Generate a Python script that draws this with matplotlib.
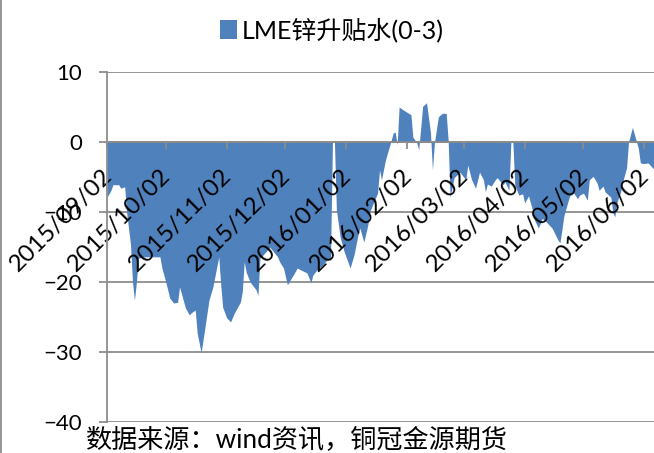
import matplotlib
matplotlib.use("Agg")
import matplotlib.pyplot as plt
import matplotlib.dates as mdates
import matplotlib.transforms as mtransforms
from matplotlib.patches import Patch
from matplotlib.lines import Line2D
import pandas as pd

plt.rcParams['font.family'] = ['Lato', 'Noto Sans CJK SC', 'DejaVu Sans']

# LME zinc 0-3 month spread, daily
dates = [
    "2015-09-02", "2015-09-04", "2015-09-05", "2015-09-08", "2015-09-09", "2015-09-11",
    "2015-09-12", "2015-09-14", "2015-09-15", "2015-09-16", "2015-09-17", "2015-09-18",
    "2015-09-21", "2015-09-25", "2015-09-29", "2015-09-30", "2015-10-02", "2015-10-04",
    "2015-10-06", "2015-10-08", "2015-10-09", "2015-10-12", "2015-10-14", "2015-10-15",
    "2015-10-17", "2015-10-18", "2015-10-20", "2015-10-22", "2015-10-24", "2015-10-26",
    "2015-10-29", "2015-10-30", "2015-10-31", "2015-11-02", "2015-11-04", "2015-11-06",
    "2015-11-09", "2015-11-10", "2015-11-11", "2015-11-12", "2015-11-14", "2015-11-17",
    "2015-11-18", "2015-11-19", "2015-11-22", "2015-11-24", "2015-11-26", "2015-11-28",
    "2015-11-29", "2015-12-01", "2015-12-03", "2015-12-06", "2015-12-08", "2015-12-10",
    "2015-12-13", "2015-12-15", "2015-12-16", "2015-12-18", "2015-12-21", "2015-12-23",
    "2015-12-25", "2015-12-26", "2015-12-27", "2015-12-28", "2015-12-30", "2016-01-01",
    "2016-01-04", "2016-01-06", "2016-01-08", "2016-01-09", "2016-01-11", "2016-01-13",
    "2016-01-14", "2016-01-16", "2016-01-18", "2016-01-19", "2016-01-20", "2016-01-22",
    "2016-01-23", "2016-01-24", "2016-01-26", "2016-01-27", "2016-01-28", "2016-01-29",
    "2016-01-31", "2016-02-04", "2016-02-05", "2016-02-07", "2016-02-08", "2016-02-10",
    "2016-02-12", "2016-02-14", "2016-02-15", "2016-02-16", "2016-02-18", "2016-02-20",
    "2016-02-22", "2016-02-23", "2016-02-24", "2016-02-26", "2016-02-29", "2016-03-03",
    "2016-03-04", "2016-03-06", "2016-03-08", "2016-03-10", "2016-03-12", "2016-03-13",
    "2016-03-14", "2016-03-16", "2016-03-18", "2016-03-19", "2016-03-22", "2016-03-23",
    "2016-03-25", "2016-03-26", "2016-03-27", "2016-03-28", "2016-03-30", "2016-04-01",
    "2016-04-02", "2016-04-04", "2016-04-06", "2016-04-07", "2016-04-09", "2016-04-11",
    "2016-04-13", "2016-04-16", "2016-04-19", "2016-04-20", "2016-04-21", "2016-04-22",
    "2016-04-24", "2016-04-25", "2016-04-27", "2016-04-29", "2016-04-30", "2016-05-02",
    "2016-05-04", "2016-05-05", "2016-05-07", "2016-05-09", "2016-05-10", "2016-05-12",
    "2016-05-13", "2016-05-16", "2016-05-17", "2016-05-18", "2016-05-19", "2016-05-21",
    "2016-05-22", "2016-05-24", "2016-05-25", "2016-05-27", "2016-05-28", "2016-05-30",
    "2016-05-31", "2016-06-01", "2016-06-04", "2016-06-06", "2016-06-07",
]
spread = [
    -7.9, -6.9, -6.1, -6.1, -6.6, -6.4,
    -10.0, -14.7, -20.0, -22.6, -20.0, -16.6,
    -16.4, -16.4, -16.4, -18.0, -20.0, -22.3,
    -23.0, -22.9, -20.7, -23.7, -24.7, -24.4,
    -24.0, -27.3, -30.1, -26.4, -22.6, -20.7,
    -16.4, -20.4, -23.6, -25.1, -25.7, -24.4,
    -22.9, -21.4, -17.1, -18.6, -20.0, -21.1,
    -21.9, -16.6, -15.7, -15.0, -15.7, -16.4,
    -17.1, -18.0, -20.4, -19.0, -18.0, -18.3,
    -18.7, -20.1, -19.0, -18.3, -17.6, -16.9,
    -16.6, 0.0, 0.0, -9.7, -13.7, -15.7,
    -18.0, -16.1, -13.3, -12.3, -14.3, -11.9,
    -10.0, -8.6, -7.3, -4.0, -5.4, -2.6,
    -1.6, -0.7, 1.3, 1.4, -0.4, 5.0,
    4.6, 3.9, 0.7, -0.1, -1.1, 5.1,
    5.6, 1.3, -4.0, -0.1, 3.6, 4.1,
    4.1, 0.3, -7.9, -5.1, -4.3, -5.4,
    -3.3, -5.4, -6.6, -4.3, -5.4, -7.1,
    -6.0, -6.3, -5.4, -5.1, -6.1, -5.7,
    -6.9, 0.0, 0.0, -6.1, -7.6, -7.4,
    -8.7, -7.7, -9.7, -11.1, -12.3, -10.9,
    -11.4, -12.3, -14.0, -14.4, -12.6, -10.6,
    -8.6, -7.7, -7.3, -8.1, -7.6, -7.3,
    -8.3, -5.4, -4.9, -5.9, -6.9, -6.3,
    -7.1, -7.9, -10.1, -10.7, -8.7, -7.1,
    -5.7, -3.7, 0.0, 2.1, 1.1, -0.9,
    -2.9, -3.1, -3.0, -3.6, -3.9,
]
month_ticks = ["2015-09-02", "2015-10-02", "2015-11-02", "2015-12-02", "2016-01-02",
               "2016-02-02", "2016-03-02", "2016-04-02", "2016-05-02", "2016-06-02"]
y_ticks = [-40, -30, -20, -10, 0, 10]

x = pd.to_datetime(dates)
grey = "#8c8c8c"

fig = plt.figure(figsize=(6.54, 4.53), dpi=100)
ax = fig.add_axes([107 / 654, 1 - 422 / 453, 1 - 107 / 654, 350 / 453])

ax.fill_between(x, spread, 0, color="#4f81bd", linewidth=0, zorder=1,
                label="LME锌升贴水(0-3)")

# horizontal gridlines sit behind the area
for yv in y_ticks:
    ax.axhline(yv, color=grey, lw=1.3, zorder=0.5)

ax.set_ylim(-40, 10)
ax.set_yticks(y_ticks)
ax.set_xlim(pd.Timestamp("2015-09-02"), pd.Timestamp("2016-06-07"))
ax.set_xticks(pd.to_datetime(month_ticks))
ax.xaxis.set_major_formatter(mdates.DateFormatter("%Y/%m/%d"))

for s in ["top", "right"]:
    ax.spines[s].set_visible(False)
ax.spines["bottom"].set_position(("data", 0))
ax.spines["bottom"].set_color(grey)
ax.spines["left"].set_color(grey)
ax.spines["bottom"].set_linewidth(1.3)
ax.spines["left"].set_linewidth(1.3)

ax.tick_params(axis="y", length=6, width=1.3, color=grey, pad=12, labelsize=16)
ax.tick_params(axis="x", length=5, width=1.3, color=grey, pad=17, labelsize=17.5)

# date labels slanted, their ends hanging just right of each tick
shift = mtransforms.ScaledTranslation(0.015, 0, fig.dpi_scale_trans)
for lab in ax.get_xticklabels():
    lab.set_rotation(45)
    lab.set_ha("right")
    lab.set_va("center")
    lab.set_rotation_mode("anchor")
    lab.set_transform(lab.get_transform() + shift)

handles = [Patch(facecolor="#4f81bd", edgecolor="none", label="LME锌升贴水(0-3)")]
fig.legend(handles=handles, loc="center", bbox_to_anchor=(0.508, 0.934), frameon=False,
           fontsize=18, handlelength=0.68, handleheight=0.8, handletextpad=0.2, borderpad=0)

fig.text(86 / 654, 1 - 441 / 453, "数据来源：wind资讯，铜冠金源期货", fontsize=18.8,
         va="center", ha="left")

# outer chart border on the left
fig.add_artist(Line2D([0.002, 0.002], [0, 1], color=grey, lw=1.3, transform=fig.transFigure))

fig.savefig("out.png", dpi=100)
